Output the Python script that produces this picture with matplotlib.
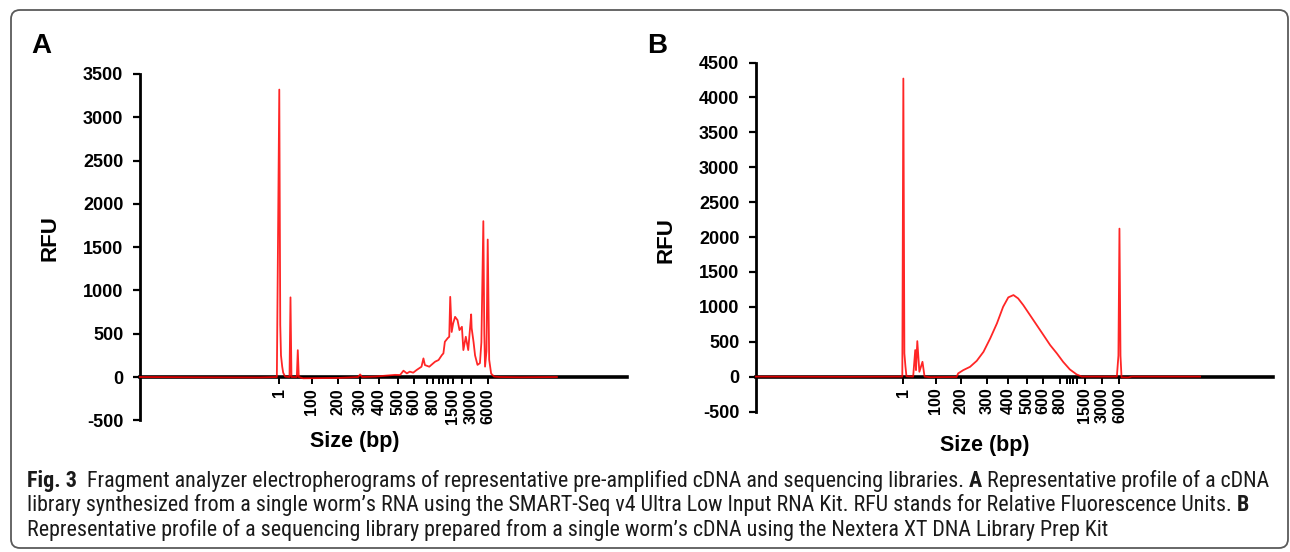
import matplotlib
matplotlib.use('Agg')
import numpy as np
import matplotlib.pyplot as plt
import matplotlib.patches as mpatches
from matplotlib import font_manager
from matplotlib.transforms import IdentityTransform

plt.rcParams['font.family'] = ['Liberation Sans', 'DejaVu Sans']

# --- data: trace A (x = migration position, 0..100 on the axis) ---
a_x = [0, 12.3, 24.6, 28.1, 28.6, 28.8, 28.95, 29.2, 29.4, 29.8, 30.7, 30.9, 31.1,
       32.2, 32.4, 32.6, 33.5, 41.1, 44.8, 45.2, 45.6, 48.3, 50.3, 52.4, 53.4,
       54.1, 54.8, 55.4, 56.1, 56.8, 57.3, 57.8, 58.2, 58.5, 59.4, 60.2, 60.6,
       61.3, 62.0, 62.3, 62.6, 63.2, 63.5, 63.7, 64.0, 64.3, 64.7, 65.2, 65.6,
       66.1, 66.4, 66.9, 67.4, 68.0, 68.1, 68.5, 68.8, 69.3, 69.8, 70.1, 70.5,
       70.7, 70.85, 71.15, 71.4, 71.7, 72.1, 72.7, 73.9, 78.0, 85.6]
a_rfu = [0, -3, -5, 0, 3320, 600, 250, 120, 50, 5, 0, 920, 0,
         0, 310, 0, -15, -10, 0, 30, 0, 5, 15, 25, 23,
         73, 42, 62, 50, 81, 100, 119, 215, 138, 119, 158, 177,
         196, 254, 273, 407, 450, 465, 926, 520, 619, 695, 657, 542,
         580, 311, 465, 311, 723, 565, 400, 250, 140, 160, 400, 1800,
         500, 120, 300, 1588, 200, 40, 5, 0, -3, 0]

# --- data: trace B ---
b_x = [0, 18.2, 27.9, 28.3, 28.5, 28.7, 28.9, 29.1, 30.4, 30.8, 30.95, 31.2, 31.6,
       32.2, 32.6, 33.7, 38.8, 39.1, 40.1, 41.4, 42.7, 44.0, 45.3, 46.6, 47.8,
       48.8, 49.8, 50.7, 51.7, 53.0, 54.3, 55.6, 56.9, 58.2, 59.4, 60.7, 62.0,
       63.0, 69.8, 70.1, 70.3, 70.5, 70.7, 72.0, 72.7, 85.9]
b_rfu = [0, -3, 0, 0, 4270, 332, 150, 5, 0, 380, 93, 508, 69,
         212, 0, -8, -5, 46, 93, 140, 226, 355, 547, 762, 1000,
         1135, 1168, 1120, 1024, 881, 738, 595, 451, 332, 212, 103, 32,
         0, 0, 300, 2120, 300, -10, -12, 0, 0]

# size ladder ticks (position on the trace axis, label)
a_tick_pos = [28.6, 35.3, 40.6, 45.2, 49.1, 53.0, 56.3, 58.9, 60.2, 61.4, 62.3,
              63.2, 64.2, 66.1, 67.9, 71.4]
a_tick_lab = ['1', '100', '200', '300', '400', '500', '600', '', '800', '', '',
              '', '1500', '', '3000', '6000']
b_tick_pos = [28.5, 34.8, 39.7, 44.6, 48.8, 52.4, 55.5, 58.8, 60.1, 60.7, 61.4,
              62.0, 63.6, 66.9, 70.3]
b_tick_lab = ['1', '100', '200', '300', '400', '500', '600', '800', '', '', '',
              '', '1500', '3000', '6000']

a_yticks = [-500, 0, 500, 1000, 1500, 2000, 2500, 3000, 3500]
b_yticks = [-500, 0, 500, 1000, 1500, 2000, 2500, 3000, 3500, 4000, 4500]

W, H = 1290, 552
fig = plt.figure(figsize=(W / 100, H / 100), dpi=100)


def px_axes(left, top, right, bottom):
    return fig.add_axes([left / W, 1 - bottom / H, (right - left) / W, (bottom - top) / H])


def style_panel(ax, x, y, tpos, tlab, yticks):
    # spine position first: moving the spine rebuilds the ticks
    for s in ['top', 'right']:
        ax.spines[s].set_visible(False)
    ax.spines['bottom'].set_position(('data', 0))
    ax.spines['bottom'].set_linewidth(2.6)
    ax.spines['left'].set_linewidth(2)
    ax.plot(x, y, color='#ff0000', lw=1.3, alpha=0.85, zorder=3, clip_on=False)
    ax.set_xlim(0, 100)
    ax.set_ylim(yticks[0], yticks[-1])
    ax.set_yticks(yticks)
    ax.set_yticklabels([str(v) for v in yticks], fontsize=13, fontweight='bold')
    ax.set_xticks(tpos)
    ax.set_xticklabels(tlab, rotation=90, fontsize=11.5, fontweight='bold')
    ax.tick_params(axis='y', direction='out', length=5, width=1.6, pad=7)
    ax.tick_params(axis='x', direction='out', length=5, width=1.4, pad=3)
    ax.patch.set_visible(False)


axA = px_axes(140, 74, 627, 420.3)
style_panel(axA, a_x, a_rfu, a_tick_pos, a_tick_lab, a_yticks)
axB = px_axes(756, 62.5, 1273, 411.5)
style_panel(axB, b_x, b_rfu, b_tick_pos, b_tick_lab, b_yticks)

idt = IdentityTransform()
# panel letters and axis titles
fig.text(31, H - 53, 'A', fontsize=20, fontweight='bold', transform=idt, va='baseline')
fig.text(647, H - 53, 'B', fontsize=20, fontweight='bold', transform=idt, va='baseline')
fig.text(50, H - 238, 'RFU', fontsize=16, fontweight='bold', rotation=90,
         transform=idt, ha='center', va='center')
fig.text(666, H - 240, 'RFU', fontsize=16, fontweight='bold', rotation=90,
         transform=idt, ha='center', va='center')
fig.text(355, H - 442, 'Size (bp)', fontsize=15.5, fontweight='bold',
         transform=idt, ha='center', va='center')
fig.text(985, H - 446, 'Size (bp)', fontsize=15.5, fontweight='bold',
         transform=idt, ha='center', va='center')

# rounded frame
frame = mpatches.FancyBboxPatch((11, H - 548), 1277, 538,
                                boxstyle='round,pad=0,rounding_size=9',
                                fc='none', ec='#5a5a5a', lw=1.3, transform=idt)
fig.add_artist(frame)

# caption with bold pieces; a narrow face if one is installed
installed = {f.name for f in font_manager.fontManager.ttflist}
cap_font = 'Liberation Sans'
for cand in ['Liberation Sans Narrow', 'DejaVu Sans Condensed', 'Roboto Condensed',
             'Open Sans Condensed', 'Noto Sans Condensed']:
    if cand in installed:
        cap_font = cand
        break
cap_family = [cap_font, 'DejaVu Sans']

cap_lines = [
    [('Fig. 3', True), ('  Fragment analyzer electropherograms of representative pre-amplified cDNA and sequencing libraries. ', False),
     ('A', True), (' Representative profile of a cDNA', False)],
    [('library synthesized from a single worm\u2019s RNA using the SMART-Seq v4 Ultra Low Input RNA Kit. RFU stands for Relative Fluorescence Units. ', False),
     ('B', True)],
    [('Representative profile of a sequencing library prepared from a single worm\u2019s cDNA using the Nextera XT DNA Library Prep Kit', False)],
]
cap_base = [487, 511, 536]

renderer = fig.canvas.get_renderer()


def draw_line(runs, x0, y, size, keep=True):
    x = x0
    for s, bold in runs:
        t = fig.text(x, y, s, fontsize=size, family=cap_family,
                     fontweight='bold' if bold else 'normal',
                     transform=idt, va='baseline', ha='left', color='#1a1a1a')
        x += t.get_window_extent(renderer).width
        if not keep:
            t.remove()
    return x - x0


# fit the first line to the caption width of the original
probe = draw_line(cap_lines[0], 0, 0, 10, keep=False)
cap_size = 10 * 1238 / probe
for runs, yb in zip(cap_lines, cap_base):
    draw_line(runs, 27, H - yb, cap_size)

fig.savefig('out.png', dpi=100)
